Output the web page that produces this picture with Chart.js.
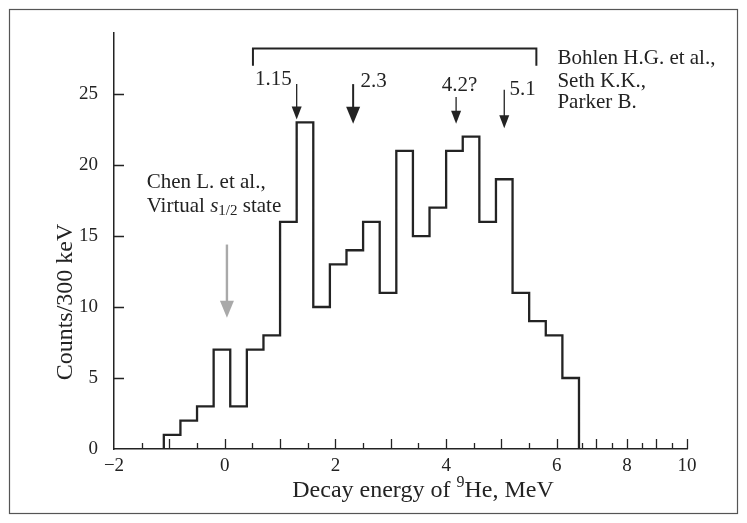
<!DOCTYPE html>
<html>
<head>
<meta charset="utf-8">
<script src="https://cdn.jsdelivr.net/npm/chart.js@4.4.1/dist/chart.umd.min.js"></script>
<style>
  html, body { margin: 0; padding: 0; background: #fff; }
  #wrap { width: 747px; height: 523px; }
</style>
</head>
<body>
<div id="wrap"><canvas id="chart" width="747" height="523"></canvas></div>
<script>
// Bins de 300 keV (bordas em MeV) e contagens
const binEdges = [-1.1, -0.8, -0.5, -0.2, 0.1, 0.4, 0.7, 1.0, 1.3, 1.6, 1.9, 2.2, 2.5,
  2.8, 3.1, 3.4, 3.7, 4.0, 4.3, 4.6, 4.9, 5.2, 5.5, 5.8, 6.1, 6.4];
const counts = [1, 2, 3, 7, 3, 7, 8, 16, 23, 10, 13, 14, 16, 11, 21, 15, 17, 21, 22, 16,
  19, 11, 9, 8, 5];

const xTickLabels = [-2, 0, 2, 4, 6, 8, 10];
const yTickLabels = [0, 5, 10, 15, 20, 25];

// Estados marcados com setas (Bohlen, Seth, Parker)
const stateLabels = ["1.15", "2.3", "4.2?", "5.1"];
const stateArrowX = [1.3, 2.32, 4.18, 5.05];
const stateArrowTop = [25.7, 25.7, 24.8, 25.3];
const stateArrowTip = [23.2, 22.9, 22.9, 22.6];
const stateLabelX = [0.88, 2.69, 4.24, 5.38];
const stateLabelY = [26.0, 25.9, 25.6, 25.3];

// Estado virtual s1/2 (Chen)
const virtualX = 0.04;
const virtualTop = 14.4;
const virtualTip = 9.25;

// Colchete sobre os estados
const bracketX = [0.51, 5.63];
const bracketY = [28.2, 27.0];

// Eixo x do original é comprimido depois de ~6.4 MeV
const xBreakValues = [-2, 6.4, 7, 7.5, 8, 9, 10];
const xBreakFracs = [0, 0.8115, 0.8412, 0.869, 0.8953, 0.9459, 1];

class BrokenScale extends Chart.LinearScale {
  getPixelForValue(value) {
    if (value === null || value === undefined) return NaN;
    const v = xBreakValues, f = xBreakFracs;
    let i = 0;
    while (i < v.length - 2 && value > v[i + 1]) i++;
    const t = (value - v[i]) / (v[i + 1] - v[i]);
    return this.getPixelForDecimal(f[i] + t * (f[i + 1] - f[i]));
  }
  getValueForPixel(pixel) {
    const d = this.getDecimalForPixel(pixel);
    const v = xBreakValues, f = xBreakFracs;
    let i = 0;
    while (i < f.length - 2 && d > f[i + 1]) i++;
    const t = (d - f[i]) / (f[i + 1] - f[i]);
    return v[i] + t * (v[i + 1] - v[i]);
  }
}
BrokenScale.id = "broken";
BrokenScale.defaults = Chart.LinearScale.defaults;
Chart.register(BrokenScale);

const INK = "#232323";
const SERIF = '"Liberation Serif", "Times New Roman", serif';

// pontos do histograma em degraus
const histPoints = [{ x: binEdges[0], y: 0 }];
counts.forEach((c, i) => histPoints.push({ x: binEdges[i], y: c }));
histPoints.push({ x: binEdges[binEdges.length - 1], y: 0 });

function drawRich(ctx, parts, x, y, align) {
  let w = 0;
  parts.forEach((p) => { ctx.font = p[1]; w += ctx.measureText(p[0]).width; });
  let cx = align === "center" ? x - w / 2 : align === "right" ? x - w : x;
  ctx.textAlign = "left";
  ctx.textBaseline = "middle";
  parts.forEach((p) => {
    ctx.font = p[1];
    ctx.fillText(p[0], cx, y + (p[2] || 0));
    cx += ctx.measureText(p[0]).width;
  });
}

function arrow(ctx, x, y0, y1, color, lw, hw, hh) {
  ctx.strokeStyle = color;
  ctx.fillStyle = color;
  ctx.lineWidth = lw;
  ctx.beginPath();
  ctx.moveTo(x, y0);
  ctx.lineTo(x, y1 - hh + 1);
  ctx.stroke();
  ctx.beginPath();
  ctx.moveTo(x - hw / 2, y1 - hh);
  ctx.lineTo(x + hw / 2, y1 - hh);
  ctx.lineTo(x, y1);
  ctx.closePath();
  ctx.fill();
}

const decorPlugin = {
  id: "decor",
  afterDraw(chart) {
    const ctx = chart.ctx;
    const xs = chart.scales.x, ys = chart.scales.y;
    const X = (v) => xs.getPixelForValue(v);
    const Y = (v) => ys.getPixelForValue(v);
    const area = chart.chartArea;
    ctx.save();

    // moldura externa
    ctx.strokeStyle = "#555";
    ctx.lineWidth = 1.2;
    ctx.strokeRect(9.5, 9.5, 728, 504);

    // ticks para dentro
    ctx.strokeStyle = INK;
    ctx.lineWidth = 1.3;
    ctx.beginPath();
    for (let k = -3; k <= 20; k++) {
      const v = k / 2;
      const px = Math.round(X(v)) + 0.5;
      const len = k % 2 === 0 ? 10 : 6;
      ctx.moveTo(px, area.bottom);
      ctx.lineTo(px, area.bottom - len);
    }
    yTickLabels.forEach((v) => {
      if (v === 0) return;
      const py = Math.round(Y(v)) + 0.5;
      ctx.moveTo(area.left, py);
      ctx.lineTo(area.left + 10, py);
    });
    ctx.stroke();

    // colchete
    ctx.lineWidth = 2;
    ctx.beginPath();
    ctx.moveTo(X(bracketX[0]), Y(bracketY[1]));
    ctx.lineTo(X(bracketX[0]), Y(bracketY[0]));
    ctx.lineTo(X(bracketX[1]), Y(bracketY[0]));
    ctx.lineTo(X(bracketX[1]), Y(bracketY[1]));
    ctx.stroke();

    // setas dos estados
    stateArrowX.forEach((v, i) => {
      const big = i === 1;
      arrow(ctx, X(v), Y(stateArrowTop[i]), Y(stateArrowTip[i]), INK,
        big ? 2 : 1.3, big ? 14 : 10, big ? 17 : 13);
    });
    arrow(ctx, X(virtualX), Y(virtualTop), Y(virtualTip), "#a9a9a9", 2.4, 14, 17);

    // textos
    ctx.fillStyle = INK;
    const fa = "21px " + SERIF;
    stateLabels.forEach((t, i) => {
      drawRich(ctx, [[t, fa]], X(stateLabelX[i]), Y(stateLabelY[i]), "center");
    });
    drawRich(ctx, [["Bohlen H.G. et al.,", fa]], X(6.01), Y(27.5), "left");
    drawRich(ctx, [["Seth K.K.,", fa]], X(6.01), Y(25.9), "left");
    drawRich(ctx, [["Parker B.", fa]], X(6.01), Y(24.4), "left");

    drawRich(ctx, [["Chen L. et al.,", fa]], X(-1.41), Y(18.8), "left");
    drawRich(ctx, [
      ["Virtual ", fa],
      ["s", "italic 21px " + SERIF],
      ["1/2", "15px " + SERIF, 5],
      [" state", fa],
    ], X(-1.41), Y(17.1), "left");

    // títulos dos eixos
    const ft = "24px " + SERIF;
    drawRich(ctx, [
      ["Decay energy of ", ft],
      ["9", "16px " + SERIF, -8],
      ["He, MeV", ft],
    ], 423, 491, "center");

    ctx.translate(66, 302);
    ctx.rotate(-Math.PI / 2);
    drawRich(ctx, [["Counts/300 keV", ft]], 0, 0, "center");

    ctx.restore();
  },
};

const tickFont = { family: SERIF, size: 19 };

new Chart(document.getElementById("chart").getContext("2d"), {
  type: "line",
  data: {
    datasets: [
      {
        label: "Counts",
        data: histPoints,
        stepped: true,
        borderColor: INK,
        borderWidth: 2.3,
        pointRadius: 0,
        fill: false,
        clip: false,
      },
    ],
  },
  options: {
    responsive: false,
    animation: false,
    events: [],
    layout: { padding: { top: 33, right: 60, bottom: 0, left: 0 } },
    plugins: { legend: { display: false }, tooltip: { enabled: false } },
    scales: {
      x: {
        type: "broken",
        min: -2,
        max: 10,
        afterBuildTicks: (s) => { s.ticks = xTickLabels.map((v) => ({ value: v })); },
        afterFit: (s) => { s.height = 74; },
        grid: { display: false, drawTicks: false },
        border: { display: true, color: INK, width: 1.5 },
        ticks: {
          color: INK,
          font: tickFont,
          padding: 6,
          maxRotation: 0,
          autoSkip: false,
          callback: (v) => String(v).replace("-", "\u2212"),
        },
      },
      y: {
        type: "linear",
        min: 0,
        max: 29.3,
        afterBuildTicks: (s) => { s.ticks = yTickLabels.map((v) => ({ value: v })); },
        afterFit: (s) => { s.width = 114; },
        grid: { display: false, drawTicks: false },
        border: { display: true, color: INK, width: 1.5 },
        ticks: { color: INK, font: tickFont, padding: 16, autoSkip: false },
      },
    },
  },
  plugins: [decorPlugin],
});
</script>
</body>
</html>
